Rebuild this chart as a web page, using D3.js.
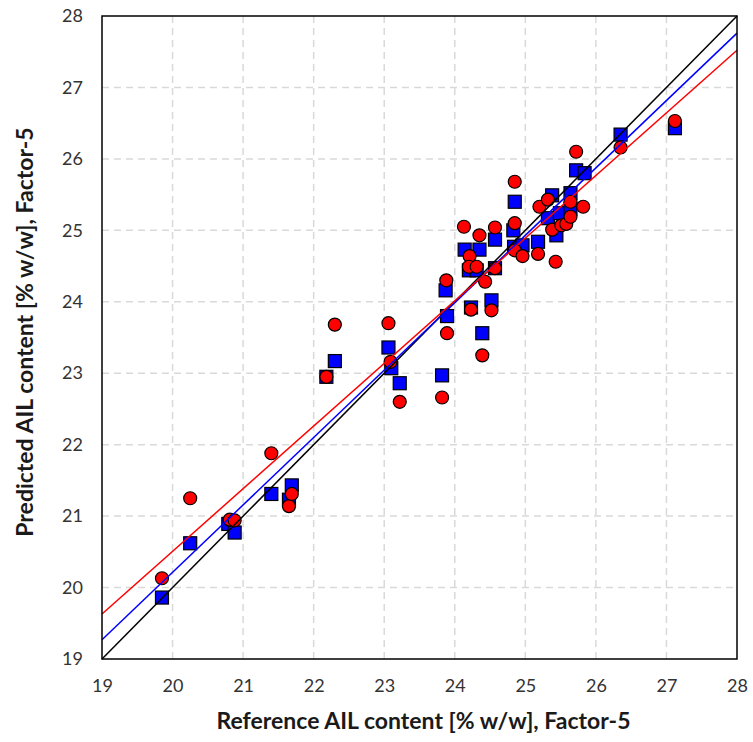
<!DOCTYPE html>
<html>
<head>
<meta charset="utf-8">
<script src="https://cdn.jsdelivr.net/npm/d3@7"></script>
<style>
  body { margin: 0; background: #fff; }
  svg { display: block; font-family: Lato, "Open Sans", sans-serif; }
</style>
</head>
<body>
<svg id="chart" width="753" height="742"></svg>
<script>
// blue squares
var blueX = [19.85, 20.25, 20.79, 20.88, 21.40, 21.65, 21.69, 22.18, 22.30, 23.06, 23.10, 23.22, 23.82, 23.89, 23.87,
  24.39, 24.52, 24.23, 24.14, 24.35, 24.20, 24.31, 24.57, 24.57, 24.85, 24.83, 24.84, 24.96, 25.18, 25.44,
  25.32, 25.38, 25.49, 25.64, 25.64, 25.72, 25.84, 26.35, 27.12];
var blueY = [19.86, 20.62, 20.89, 20.77, 21.31, 21.23, 21.43, 22.95, 23.17, 23.36, 23.07, 22.86, 22.97, 23.80, 24.16,
  23.56, 24.02, 23.92, 24.73, 24.73, 24.44, 24.44, 24.87, 24.47, 25.40, 25.00, 24.77, 24.79, 24.84, 24.93,
  25.17, 25.49, 25.24, 25.52, 25.30, 25.84, 25.80, 26.34, 26.43];
// red circles
var redX = [19.85, 20.25, 20.81, 20.88, 21.40, 21.65, 21.69, 22.18, 22.30, 23.06, 23.09, 23.22, 23.82, 23.89, 23.88,
  24.39, 24.52, 24.23, 24.43, 24.13, 24.21, 24.35, 24.20, 24.31, 24.57, 24.57, 24.85, 24.85, 24.85, 24.96,
  25.18, 25.43, 25.20, 25.32, 25.38, 25.51, 25.58, 25.64, 25.64, 25.82, 25.72, 26.35, 27.12];
var redY = [20.13, 21.25, 20.95, 20.94, 21.88, 21.14, 21.31, 22.95, 23.68, 23.70, 23.16, 22.60, 22.66, 23.56, 24.30,
  23.25, 23.88, 23.89, 24.28, 25.05, 24.64, 24.93, 24.49, 24.49, 25.04, 24.47, 25.68, 25.10, 24.72, 24.64,
  24.67, 24.56, 25.33, 25.43, 25.01, 25.07, 25.09, 25.40, 25.19, 25.33, 26.10, 26.16, 26.53];
// lines: value at x=19 and at x=28
var lineNames = ["ideal", "blueFit", "redFit"];
var lineStart = [19, 19.27, 19.63];
var lineEnd = [28, 27.76, 27.52];
var lineColors = ["#000000", "#0000ff", "#ff0000"];
var ticks = [19, 20, 21, 22, 23, 24, 25, 26, 27, 28];

var svg = d3.select("#chart");
var pLeft = 102, pRight = 737, pTop = 16, pBottom = 659;

var x = d3.scaleLinear().domain([19, 28]).range([pLeft, pRight]);
var y = d3.scaleLinear().domain([19, 28]).range([pBottom, pTop]);

// grid
var inner = ticks.slice(1, -1);
var grid = svg.append("g");
grid.selectAll(".vg").data(inner).enter().append("line")
  .attr("x1", d => x(d)).attr("x2", d => x(d))
  .attr("y1", pTop).attr("y2", pBottom)
  .attr("stroke", "#d9d9d9").attr("stroke-width", 1.5).attr("stroke-dasharray", "7,5");
grid.selectAll(".hg").data(inner).enter().append("line")
  .attr("y1", d => y(d)).attr("y2", d => y(d))
  .attr("x1", pLeft).attr("x2", pRight)
  .attr("stroke", "#d9d9d9").attr("stroke-width", 1.5).attr("stroke-dasharray", "7,5");

// axes (labels only)
var xAxis = svg.append("g").attr("transform", "translate(0," + pBottom + ")")
  .call(d3.axisBottom(x).tickValues(ticks).tickSize(0).tickPadding(20));
var yAxis = svg.append("g").attr("transform", "translate(" + pLeft + ",0)")
  .call(d3.axisLeft(y).tickValues(ticks).tickSize(0).tickPadding(19));
[xAxis, yAxis].forEach(function(a) {
  a.select(".domain").remove();
  a.selectAll("text").attr("font-size", 18).attr("fill", "#333333")
    .attr("font-family", "Lato, 'Open Sans', sans-serif");
});

// markers
svg.append("g").selectAll("rect").data(d3.range(blueX.length)).enter().append("rect")
  .attr("x", i => x(blueX[i]) - 6.5).attr("y", i => y(blueY[i]) - 6.5)
  .attr("width", 13).attr("height", 13)
  .attr("fill", "#0000ff").attr("stroke", "#000").attr("stroke-width", 1.2);

svg.append("g").selectAll("circle").data(d3.range(redX.length)).enter().append("circle")
  .attr("cx", i => x(redX[i])).attr("cy", i => y(redY[i])).attr("r", 6.5)
  .attr("fill", "#ff0000").attr("stroke", "#000").attr("stroke-width", 1.2);

// lines
svg.append("g").selectAll("line").data(lineNames).enter().append("line")
  .attr("x1", x(19)).attr("x2", x(28))
  .attr("y1", (d, i) => y(lineStart[i])).attr("y2", (d, i) => y(lineEnd[i]))
  .attr("stroke", (d, i) => lineColors[i]).attr("stroke-width", 1.5);

// frame
svg.append("rect").attr("x", pLeft).attr("y", pTop)
  .attr("width", pRight - pLeft).attr("height", pBottom - pTop)
  .attr("fill", "none").attr("stroke", "#000").attr("stroke-width", 1.5);

// titles
svg.append("text").attr("x", (pLeft + pRight) / 2 + 4).attr("y", 729)
  .attr("text-anchor", "middle").attr("font-size", 23).attr("font-weight", "bold").attr("fill", "#1a1a1a")
  .text("Reference AIL content [% w/w], Factor-5");
svg.append("text").attr("transform", "translate(33,332) rotate(-90)")
  .attr("text-anchor", "middle").attr("font-size", 23).attr("font-weight", "bold").attr("fill", "#1a1a1a")
  .text("Predicted AIL content [% w/w], Factor-5");
</script>
</body>
</html>
